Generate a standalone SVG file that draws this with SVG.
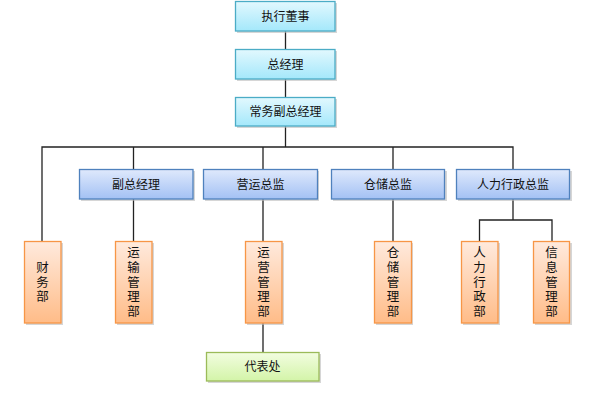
<svg xmlns="http://www.w3.org/2000/svg" width="592" height="396" viewBox="0 0 592 396">
<defs>
<linearGradient id="gc" x1="0" y1="0" x2="0" y2="1"><stop offset="0" stop-color="#e2f8fe"/><stop offset="1" stop-color="#a4e8fb"/></linearGradient>
<linearGradient id="gb" x1="0" y1="0" x2="0" y2="1"><stop offset="0" stop-color="#dfe9fc"/><stop offset="1" stop-color="#a3c1f4"/></linearGradient>
<linearGradient id="go" x1="0" y1="0" x2="0" y2="1"><stop offset="0" stop-color="#ffeadd"/><stop offset="1" stop-color="#ffbc88"/></linearGradient>
<linearGradient id="gg" x1="0" y1="0" x2="0" y2="1"><stop offset="0" stop-color="#f2fde0"/><stop offset="1" stop-color="#d3f4a8"/></linearGradient>
</defs>
<style>
text{font-family:"Noto Sans CJK SC","Microsoft YaHei",sans-serif;font-size:12px;fill:#111;text-anchor:middle;}
.v{writing-mode:vertical-rl;letter-spacing:2.2px;font-size:12.5px;}
.sh{fill:#bbb;opacity:0.6;}
.c{fill:url(#gc);stroke:#4bacc6;stroke-width:1.3;}
.b{fill:url(#gb);stroke:#4f81bd;stroke-width:1.3;}
.o{fill:url(#go);stroke:#f79646;stroke-width:1.3;}
.g{fill:url(#gg);stroke:#9bbb59;stroke-width:1.3;}
.ln{fill:none;stroke:#222;stroke-width:1.3;}
</style>
<g id="connectors">
<path class="ln" d="M285.5 31V49M285.5 79V97M285.5 126V147"/>
<path class="ln" d="M42 241V147H513V169"/>
<path class="ln" d="M133.5 147V169M263 147V169M393 147V169"/>
<path class="ln" d="M133.5 199V241M263 199V241M263 323V352M393 199V241"/>
<path class="ln" d="M513 199V220M479.5 241V220H552V241"/>
</g>
<g id="n1"><rect class="sh" x="237" y="3" width="100" height="30"/><rect class="c" x="235.5" y="1.5" width="99.5" height="29.5"/><text x="285.5" y="20.5">执行董事</text></g>
<g id="n2"><rect class="sh" x="237" y="51" width="100" height="30"/><rect class="c" x="235.5" y="49.5" width="99.5" height="29.5"/><text x="285.5" y="68.5">总经理</text></g>
<g id="n3"><rect class="sh" x="237" y="99" width="100" height="29"/><rect class="c" x="235.5" y="97.5" width="99.5" height="28.5"/><text x="285.5" y="116">常务副总经理</text></g>
<g id="n4"><rect class="sh" x="81" y="171" width="114" height="30"/><rect class="b" x="79.5" y="169.5" width="113.5" height="29.5"/><text x="136" y="188.5">副总经理</text></g>
<g id="n5"><rect class="sh" x="205" y="171" width="114" height="30"/><rect class="b" x="203.5" y="169.5" width="114" height="29.5"/><text x="260.5" y="188.5">营运总监</text></g>
<g id="n6"><rect class="sh" x="333" y="171" width="114" height="30"/><rect class="b" x="331.5" y="169.5" width="113" height="29.5"/><text x="388" y="188.5">仓储总监</text></g>
<g id="n7"><rect class="sh" x="458" y="171" width="114" height="30"/><rect class="b" x="456.5" y="169.5" width="113" height="29.5"/><text x="513" y="188.5">人力行政总监</text></g>
<g id="n8"><rect class="sh" x="26" y="243" width="37" height="82"/><rect class="o" x="24.5" y="241.5" width="36.5" height="81.5"/><text class="v" x="42.5" y="283">财务部</text></g>
<g id="n9"><rect class="sh" x="117" y="243" width="37" height="82"/><rect class="o" x="115.5" y="241.5" width="36.5" height="81.5"/><text class="v" x="133.5" y="283">运输管理部</text></g>
<g id="n10"><rect class="sh" x="247" y="243" width="37" height="82"/><rect class="o" x="245.5" y="241.5" width="36.5" height="81.5"/><text class="v" x="263.5" y="283">运营管理部</text></g>
<g id="n11"><rect class="sh" x="376" y="243" width="37" height="82"/><rect class="o" x="374.5" y="241.5" width="37" height="81.5"/><text class="v" x="393" y="283">仓储管理部</text></g>
<g id="n12"><rect class="sh" x="463" y="243" width="37" height="82"/><rect class="o" x="461.5" y="241.5" width="36.5" height="81.5"/><text class="v" x="479.5" y="283">人力行政部</text></g>
<g id="n13"><rect class="sh" x="535" y="243" width="37" height="82"/><rect class="o" x="533.5" y="241.5" width="36" height="81.5"/><text class="v" x="551.5" y="283">信息管理部</text></g>
<g id="n14"><rect class="sh" x="208" y="354" width="113" height="29"/><rect class="g" x="206.5" y="352.5" width="112.5" height="28.5"/><text x="262.5" y="371">代表处</text></g>
</svg>
